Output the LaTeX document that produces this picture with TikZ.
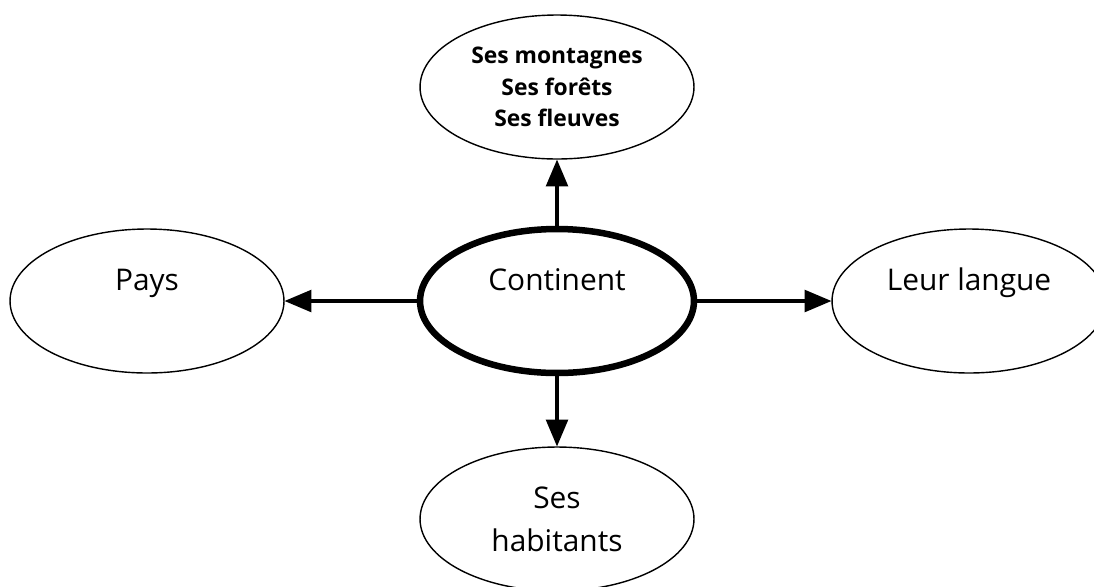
\documentclass[tikz,border=0pt]{standalone}
\usepackage{fontspec}
\setmainfont{Open Sans}
\usetikzlibrary{arrows}
\usetikzlibrary{shapes.geometric}

\begin{document}
\begin{tikzpicture}[line cap=round,line join=round,>=triangle 45,x=0.02cm,y=-0.02cm]
\tikzset{bulle/.style={ellipse,draw,line width=0.8pt,minimum width=5.48cm,minimum height=2.88cm,align=center,font=\fontsize{17}{24.5}\selectfont},
 fleche/.style={->,line width=2.6pt}}
\useasboundingbox (0,0) rectangle (1094,586);
\clip (0,0) rectangle (1094,586);
\node[bulle,line width=3.7pt] (cont) at (557,301) {Continent\\\mbox{}};
\node[bulle,font=\fontsize{13}{18}\selectfont\bfseries] (milieu) at (557,87) {Ses montagnes\\Ses forêts\\Ses fleuves};
\node[bulle] (pays) at (147,301) {Pays\\\mbox{}};
\node[bulle] (langue) at (969,301) {Leur langue\\\mbox{}};
\node[bulle] (hab) at (557,519) {Ses\\habitants};
\draw[fleche] (cont.north) -- (milieu.south);
\draw[fleche] (cont.west) -- (pays.east);
\draw[fleche] (cont.east) -- (langue.west);
\draw[fleche] (cont.south) -- (hab.north);
\end{tikzpicture}
\end{document}
